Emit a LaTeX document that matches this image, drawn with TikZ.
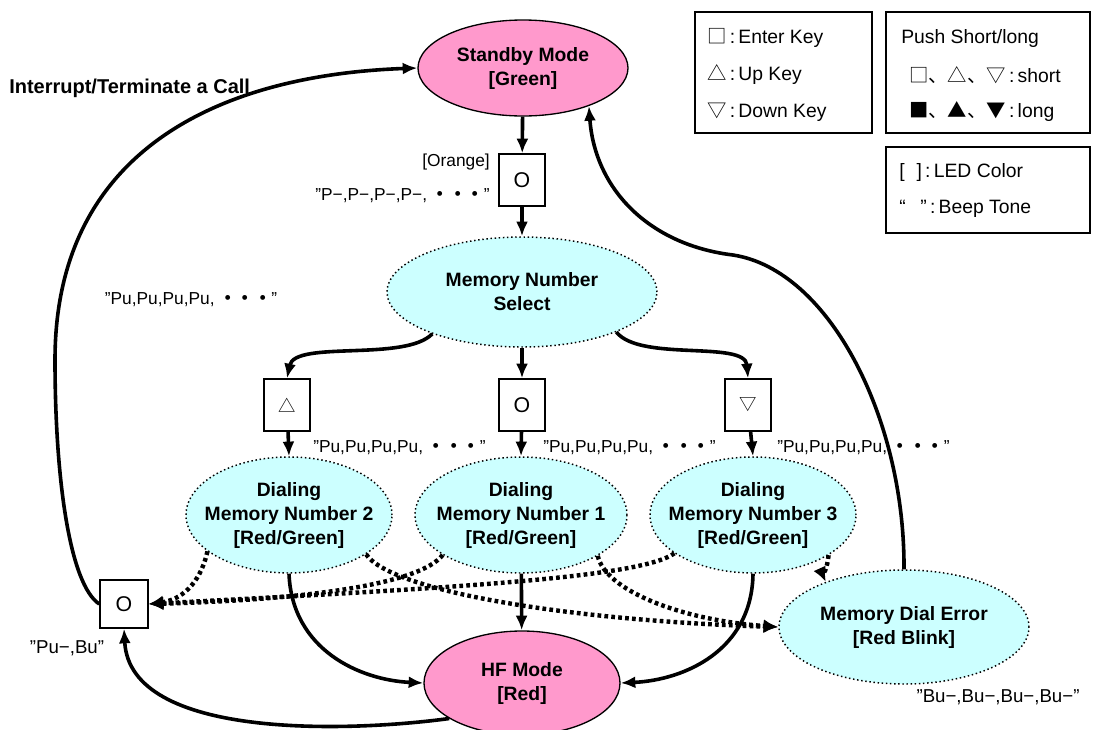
\documentclass[tikz,border=0pt]{standalone}
\usepackage{fontspec}
\setmainfont{Liberation Sans}
\newfontfamily\cjk{Noto Sans CJK JP}
\usetikzlibrary{shapes.geometric,arrows.meta}
\definecolor{pinkfill}{HTML}{FF99CC}
\definecolor{cyanfill}{HTML}{CCFFFF}
\newcommand\bnodefont{\bfseries\fontsize{14.5}{18}\selectfont}
\newcommand\lblfont{\fontsize{13}{15}\selectfont}
\newcommand\legfont{\fontsize{14.5}{17}\selectfont}
\newcommand\mydots{{\cjk\bfseries ・・・}}
\begin{document}
\begin{tikzpicture}[x=0.75pt,y=-0.75pt,
  state/.style={ellipse, draw, line width=1pt, fill=pinkfill, inner xsep=-40pt, inner ysep=-30pt, align=center, font=\bnodefont},
  sel/.style={ellipse, draw, dotted, line width=1.1pt, fill=cyanfill, inner xsep=-40pt, inner ysep=-30pt, align=center, font=\bnodefont},
  keybox/.style={draw, line width=1pt, fill=white, inner sep=0pt, minimum width=34.5pt, minimum height=39pt},
  arr/.style={line width=2.7pt, -{Latex[length=11pt,width=9pt]}},
  darr/.style={line width=3.3pt, dash pattern=on 2.8pt off 2.4pt, -{Latex[length=11pt,width=10pt]}},
  lbl/.style={font=\lblfont, inner sep=0pt},
  legbox/.style={draw, line width=1pt, inner sep=0pt},
  legtxt/.style={font=\legfont, inner sep=0pt, anchor=west}
]
\useasboundingbox (0,0) rectangle (1093,729);

% main states
\node[state, minimum width=157.5pt, minimum height=72pt] (standby) at (523,68) {Standby Mode\\{[Green]}};
\node[state, minimum width=147pt, minimum height=78pt] (hf) at (522,683) {HF Mode\\{[Red]}};
\node[sel, minimum width=202.5pt, minimum height=82.5pt] (mns) at (522,292) {Memory Number\\Select};
\node[sel, minimum width=154.5pt, minimum height=87pt] (d2) at (289,515) {Dialing\\Memory Number 2\\{[Red/Green]}};
\node[sel, minimum width=159pt, minimum height=87pt] (d1) at (521,515) {Dialing\\Memory Number 1\\{[Red/Green]}};
\node[sel, minimum width=154.5pt, minimum height=87pt] (d3) at (753,515) {Dialing\\Memory Number 3\\{[Red/Green]}};
\node[sel, minimum width=187.5pt, minimum height=85.5pt] (mde) at (904,627) {Memory Dial Error\\{[Red Blink]}};

% key boxes
\node[keybox, font=\fontsize{16}{18}\selectfont] (k0) at (522,180) {O};
\node[keybox, font=\cjk\fontsize{13}{15}\selectfont] (kup) at (287,405) {△};
\node[keybox, font=\fontsize{16}{18}\selectfont] (kmid) at (522,405) {O};
\node[keybox, font=\cjk\fontsize{13}{15}\selectfont] (kdn) at (748,405) {▽};
\node[keybox, minimum width=36pt, minimum height=36pt, font=\fontsize{16}{18}\selectfont] (kleft) at (124,604) {O};

% labels
\node[lbl, anchor=east] (lorange) at (490,162) {[Orange]};
\node[lbl, anchor=east] (lp) at (490,196) {”P−,P−,P−,P−, \mydots”};
\node[lbl] (lpu0) at (191,300) {”Pu,Pu,Pu,Pu, \mydots”};
\node[lbl, anchor=west] (lpu1) at (313,448) {”Pu,Pu,Pu,Pu, \mydots”};
\node[lbl, anchor=west] (lpu2) at (543,448) {”Pu,Pu,Pu,Pu, \mydots”};
\node[lbl, anchor=west] (lpu3) at (777,448) {”Pu,Pu,Pu,Pu, \mydots”};
\node[lbl, font=\fontsize{14}{16}\selectfont] (lpubu) at (67,648) {”Pu−,Bu”};
\node[lbl, font=\fontsize{14}{16}\selectfont] (lbu) at (998,697) {”Bu−,Bu−,Bu−,Bu−”};
\node[inner sep=0pt, anchor=west, font=\bfseries\fontsize{15}{17}\selectfont] (lint) at (9,88) {Interrupt/Terminate a Call};

% legends
\node[legbox, minimum width=132.75pt, minimum height=90.75pt] (leg1) at (783.5,72.5) {};
\node[legbox, minimum width=153pt, minimum height=90.75pt] (leg2) at (988,72.5) {};
\node[legbox, minimum width=153pt, minimum height=64.5pt] (leg3) at (988,190) {};
\node[legtxt] (t11) at (707,38) {{\cjk □}\,:\,Enter Key};
\node[legtxt] (t12) at (707,75) {{\cjk △}\,:\,Up Key};
\node[legtxt] (t13) at (707,112) {{\cjk ▽}\,:\,Down Key};
\node[legtxt] (t21) at (901,38) {Push Short/long};
\node[legtxt] (t22) at (909,75) {{\cjk □、△、▽}\,:\,short};
\node[legtxt] (t23) at (909,112) {{\cjk ■、▲、▼}\,:\,long};
\node[legtxt] (t31) at (899,172) {[\hspace{9pt}]\,:\,LED Color};
\node[legtxt] (t32) at (899,209) {“\hspace{11pt}”\,:\,Beep Tone};

% straight arrows
\draw[arr] (standby) -- (k0);
\draw[arr] (k0) -- (mns);
\draw[arr] (mns) -- (kmid);
\draw[arr] (kup) -- (d2.north);
\draw[arr] (kmid) -- (d1.north);
\draw[arr] (kdn) -- (d3.north);
\draw[arr] (d1) -- (hf);

% curved arrows
\draw[arr] (mns.205) .. controls (405,362) and (295,340) .. (kup.north);
\draw[arr] (mns.-23) .. controls (640,362) and (745,340) .. (kdn.north);
\draw[arr] (d2.south) .. controls (292,650) and (360,680) .. (hf.west);
\draw[arr] (d3.south) .. controls (752,650) and (685,680) .. (hf.east);
\draw[arr] (hf.206) .. controls (350,732) and (130,740) .. (kleft.south);
\draw[arr] (kleft.west) .. controls (70,585) and (55,480) .. (55,360) .. controls (55,150) and (220,75) .. (standby.west);
\draw[arr] (mde.north) .. controls (905,420) and (830,270) .. (733,255) .. controls (650,245) and (595,190) .. (standby.-30);

% dotted arrows
\draw[darr] (d2.204) .. controls (200,585) and (180,600) .. (kleft.east);
\draw[darr] (d1.207) .. controls (420,585) and (300,600) .. (kleft.east);
\draw[darr] (d3.206) .. controls (640,578) and (450,588) .. (kleft.east);
\draw[darr] (d2.-27) .. controls (390,590) and (560,620) .. (mde.west);
\draw[darr] (d1.-28) .. controls (605,590) and (680,620) .. (mde.west);
\draw[darr] (d3.-28) .. controls (827,568) and (824,578) .. (mde.150);
\end{tikzpicture}
\end{document}
